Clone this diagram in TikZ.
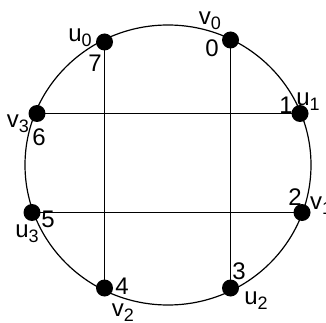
\documentclass[tikz,border=0pt]{standalone}
\usepackage{fontspec}
\setmainfont{Liberation Sans}
\newcommand\lbl[2]{#1\raisebox{-0.4ex}{\fontsize{18}{18}\selectfont #2}}
\begin{document}
\begin{tikzpicture}[x=1pt,y=-1pt,
  dot/.style={circle,fill=black,inner sep=0pt,minimum size=17pt},
  txt/.style={inner sep=0pt,font=\fontsize{24}{24}\selectfont},
  edge/.style={line width=1.2pt}]
\useasboundingbox (0,0) rectangle (326,323);
\draw[edge] (168,165) ellipse [x radius=143, y radius=140];
\node[dot] (u0) at (104.5,42) {};
\node[dot] (v0) at (230.5,40) {};
\node[dot] (u1) at (300,113.5) {};
\node[dot] (v3) at (37,113.5) {};
\node[dot] (u3) at (32,212.5) {};
\node[dot] (v1) at (302,212.5) {};
\node[dot] (v2) at (104.5,288) {};
\node[dot] (u2) at (230.5,288) {};
\draw[edge] (u0.center) -- (v2.center);
\draw[edge] (v0.center) -- (u2.center);
\draw[edge] (v3.center) -- (u1.center);
\draw[edge] (u3.center) -- (v1.center);
\node[txt] (lu0) at (80,38) {\lbl{u}{0}};
\node[txt] (n7) at (95,63) {7};
\node[txt] (lv0) at (210,21) {\lbl{v}{0}};
\node[txt] (n0) at (212,48) {0};
\node[txt] (n1) at (286,105) {1};
\node[txt] (lu1) at (308,102) {\lbl{u}{1}};
\node[txt] (lv3) at (18,124) {\lbl{v}{3}};
\node[txt] (n6) at (39,137) {6};
\node[txt] (n2) at (295,197) {2};
\node[txt] (lv1) at (321,206) {\lbl{v}{1}};
\node[txt] (lu3) at (27,234) {\lbl{u}{3}};
\node[txt] (n5) at (48,219) {5};
\node[txt] (n3) at (239,271) {3};
\node[txt] (lu2) at (256,301) {\lbl{u}{2}};
\node[txt] (n4) at (122,286) {4};
\node[txt] (lv2) at (123,313) {\lbl{v}{2}};
\end{tikzpicture}
\end{document}
